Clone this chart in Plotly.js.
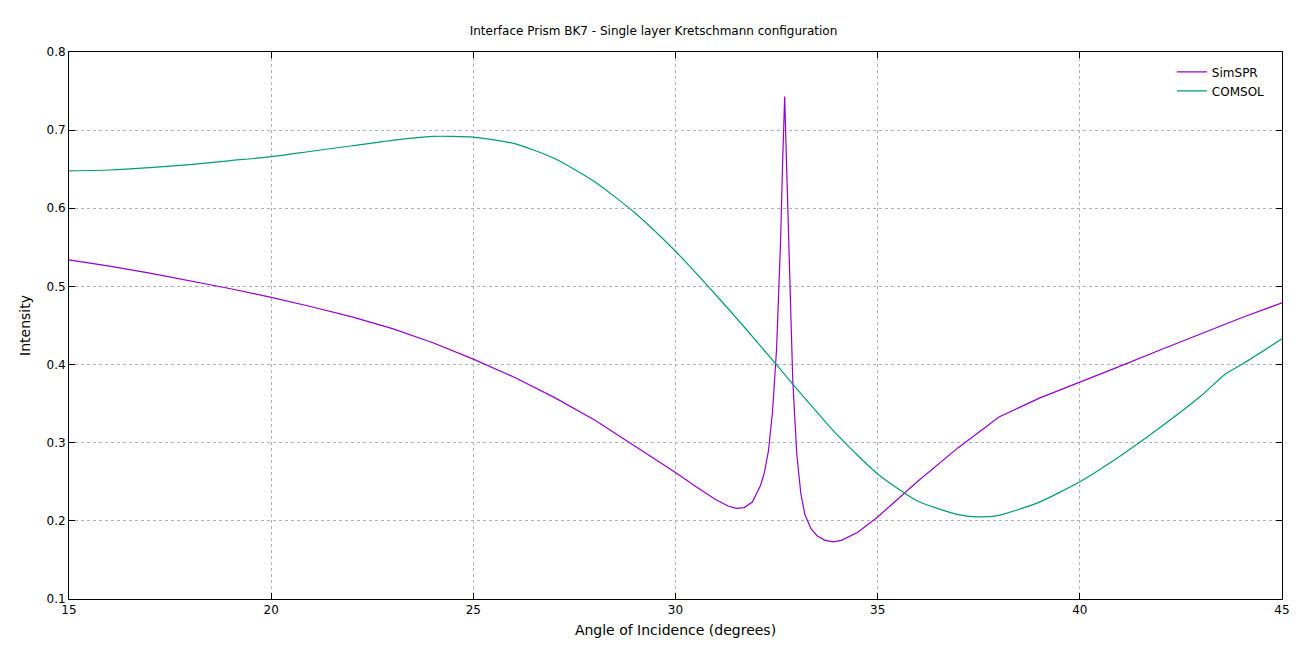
<!DOCTYPE html>
<html>
<head>
<meta charset="utf-8">
<script src="https://cdn.plot.ly/plotly-3.0.1.min.js"></script>
<style>body{margin:0;background:#fff}</style>
</head>
<body>
<div id="chart" style="width:1307px;height:653px"></div>
<script>
// SimSPR curve
var simAngle = [15, 16, 17, 18, 19, 20, 21, 22, 23, 24, 25, 26, 27, 28, 29, 30, 30.5, 31, 31.3, 31.5, 31.7, 31.9, 32.1, 32.2, 32.3, 32.4, 32.5, 32.6, 32.65, 32.7, 32.75, 32.8, 32.9, 33.0, 33.1, 33.2, 33.35, 33.5, 33.7, 33.9, 34.1, 34.5, 35, 35.5, 36, 37, 38, 39, 40, 41, 42, 43, 44, 45];
var simI = [0.534, 0.526, 0.517, 0.507, 0.497, 0.486, 0.474, 0.461, 0.446, 0.428, 0.407, 0.384, 0.358, 0.329, 0.296, 0.262, 0.244, 0.227, 0.219, 0.216, 0.217, 0.224, 0.245, 0.262, 0.290, 0.340, 0.420, 0.560, 0.660, 0.743, 0.650, 0.550, 0.380, 0.285, 0.235, 0.208, 0.190, 0.181, 0.175, 0.173, 0.175, 0.185, 0.205, 0.228, 0.251, 0.294, 0.333, 0.357, 0.377, 0.398, 0.419, 0.440, 0.460, 0.479];

// COMSOL curve
var comAngle = [15, 16, 17, 18, 19, 20, 21, 22, 23, 24, 25, 26, 27, 28, 29, 30, 31, 32, 33, 34, 35, 36, 37, 37.5, 38, 39, 40, 41, 42, 43, 43.6, 44, 45];
var comI = [0.648, 0.649, 0.652, 0.656, 0.661, 0.666, 0.673, 0.680, 0.687, 0.692, 0.691, 0.683, 0.664, 0.634, 0.594, 0.545, 0.489, 0.430, 0.369, 0.310, 0.260, 0.225, 0.208, 0.205, 0.207, 0.224, 0.250, 0.283, 0.320, 0.360, 0.388, 0.400, 0.433];

var traces = [
  {x: simAngle, y: simI, name: 'SimSPR', mode: 'lines', line: {color: '#9400d3', width: 1.2}},
  {x: comAngle, y: comI, name: 'COMSOL', mode: 'lines', line: {color: '#009e73', width: 1.2, shape: 'spline', smoothing: 0.6}}
];

var axisCommon = {
  showline: true, mirror: 'ticks', linecolor: '#000', linewidth: 1,
  ticks: 'inside', ticklen: 6, tickcolor: '#000',
  showgrid: true, gridcolor: '#b0b0b0', griddash: 'dot', gridwidth: 1,
  zeroline: false, tickfont: {size: 12, color: '#000'}
};

var layout = {
  font: {family: 'DejaVu Sans, sans-serif', size: 12, color: '#000'},
  title: {text: 'Interface Prism BK7 - Single layer Kretschmann configuration', x: 0.5, y: 0.96, font: {size: 12}},
  margin: {l: 69, r: 25, t: 52, b: 54},
  paper_bgcolor: '#fff', plot_bgcolor: '#fff',
  xaxis: Object.assign({}, axisCommon, {range: [15, 45], dtick: 5, title: {text: 'Angle of Incidence (degrees)', standoff: 8}}),
  yaxis: Object.assign({}, axisCommon, {range: [0.1, 0.8], dtick: 0.1, tickformat: '.1f', title: {text: 'Intensity', standoff: 12}}),
  showlegend: true,
  legend: {x: 0.99, y: 0.99, xanchor: 'right', yanchor: 'top', bgcolor: 'rgba(0,0,0,0)', font: {size: 12}, tracegroupgap: 0}
};

Plotly.newPlot('chart', traces, layout, {displayModeBar: false});
</script>
</body>
</html>
